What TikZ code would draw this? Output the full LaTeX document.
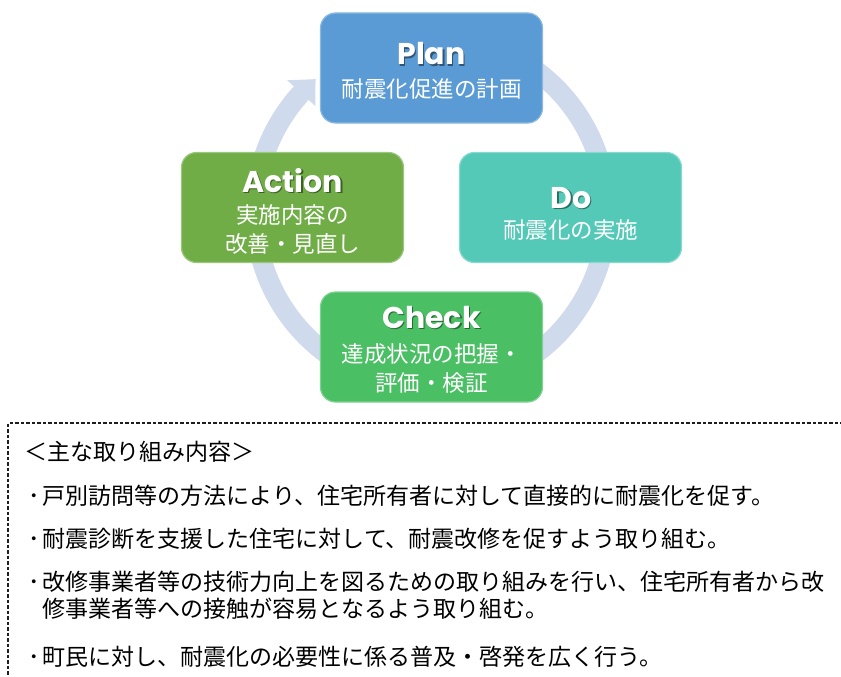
\documentclass[tikz,border=0pt]{standalone}
\usepackage{fontspec}
\setmainfont{Noto Sans CJK JP}
\newfontfamily\jpfont{Noto Sans CJK JP}
\newfontfamily\titlefont{Poppins}
\usetikzlibrary{calc}
\definecolor{ringcol}{RGB}{207,218,237}
\definecolor{plancol}{RGB}{91,155,213}
\definecolor{actcol}{RGB}{112,173,71}
\definecolor{docol}{RGB}{84,201,183}
\definecolor{chkcol}{RGB}{74,191,100}
\definecolor{dashcol}{RGB}{30,30,30}
\newcommand\shtext[2]{\makebox[0pt][l]{\hspace{1.5pt}\raisebox{-1.5pt}[0pt][0pt]{\textcolor{#1}{#2}}}#2}
\newcommand\bul{\makebox[14.5pt][l]{･}}
\begin{document}
\begin{tikzpicture}[x=1pt,y=1pt,
  box/.style={rounded corners=15pt, minimum width=222pt, minimum height=110pt, inner sep=0pt, line width=1.2pt},
  ttl/.style={anchor=base, text=white, font=\titlefont\bfseries\fontsize{30}{30}\selectfont, inner sep=0pt},
  sub/.style={anchor=center, text=white, font=\jpfont\fontsize{22.5}{22.5}\selectfont, inner sep=0pt, text height=18.5pt, text depth=1.5pt},
  body/.style={anchor=west, text=black, font=\jpfont\fontsize{23}{23}\selectfont, inner sep=0pt, text height=19pt, text depth=1.6pt}
]
\useasboundingbox (0,0) rectangle (841,-677);

% cycle ring with arrow
\coordinate (C) at (431,-212);
\draw[ringcol, line width=20pt] ($(C)+(60:176)$) arc[start angle=60, end angle=-222.8, radius=176];
\fill[ringcol] ($(C)+(137.5:195)$) -- ($(C)+(131:176)$) -- ($(C)+(137.5:157)$) -- cycle;

% boxes
\node[box, fill=plancol, draw=plancol!70!white] (plan) at (431.5,-68) {};
\node[box, fill=actcol, draw=actcol!70!white] (act) at (292.5,-207.5) {};
\node[box, fill=docol, draw=docol!70!white] (do) at (570.5,-207.5) {};
\node[box, fill=chkcol, draw=chkcol!70!white] (chk) at (431.5,-347) {};

% box texts
\node[ttl] (planT) at (431.5,-65) {\shtext{plancol!55!black}{Plan}};
\node[sub] (planS) at (431.5,-89) {耐震化促進の計画};

\node[ttl] (actT) at (292.5,-192) {\shtext{actcol!55!black}{Action}};
\node[sub] (actS1) at (292.5,-215) {実施内容の};
\node[sub] (actS2) at (292.5,-244) {改善・見直し};

\node[ttl] (doT) at (571,-208) {\shtext{docol!55!black}{Do}};
\node[sub] (doS) at (570.5,-230) {耐震化の実施};

\node[ttl] (chkT) at (431.5,-328) {\shtext{chkcol!55!black}{Check}};
\node[sub] (chkS1) at (431.5,-354) {達成状況の把握・};
\node[sub] (chkS2) at (431.5,-383) {評価・検証};

% dashed frame
\coordinate (dbTR) at (860,-423);
\coordinate (dbTL) at (8,-423);
\coordinate (dbBL) at (8,-690);
\draw[dashcol, line width=1.1pt, dash pattern=on 3.5pt off 2pt] (dbTR) -- (dbTL) -- (dbBL);

% list text
\node[body] (hdr) at (24,-452) {＜主な取り組み内容＞};
\node[body] (l1) at (28,-496) {\bul 戸別訪問等の方法により、住宅所有者に対して直接的に耐震化を促す。};
\node[body] (l2) at (28,-539) {\bul 耐震診断を支援した住宅に対して、耐震改修を促すよう取り組む。};
\node[body] (l3a) at (28,-582) {\bul 改修事業者等の技術力向上を図るための取り組みを行い、住宅所有者から改};
\node[body] (l3b) at (42.5,-609) {修事業者等への接触が容易となるよう取り組む。};
\node[body] (l4) at (28,-657) {\bul 町民に対し、耐震化の必要性に係る普及・啓発を広く行う。};
\end{tikzpicture}
\end{document}
